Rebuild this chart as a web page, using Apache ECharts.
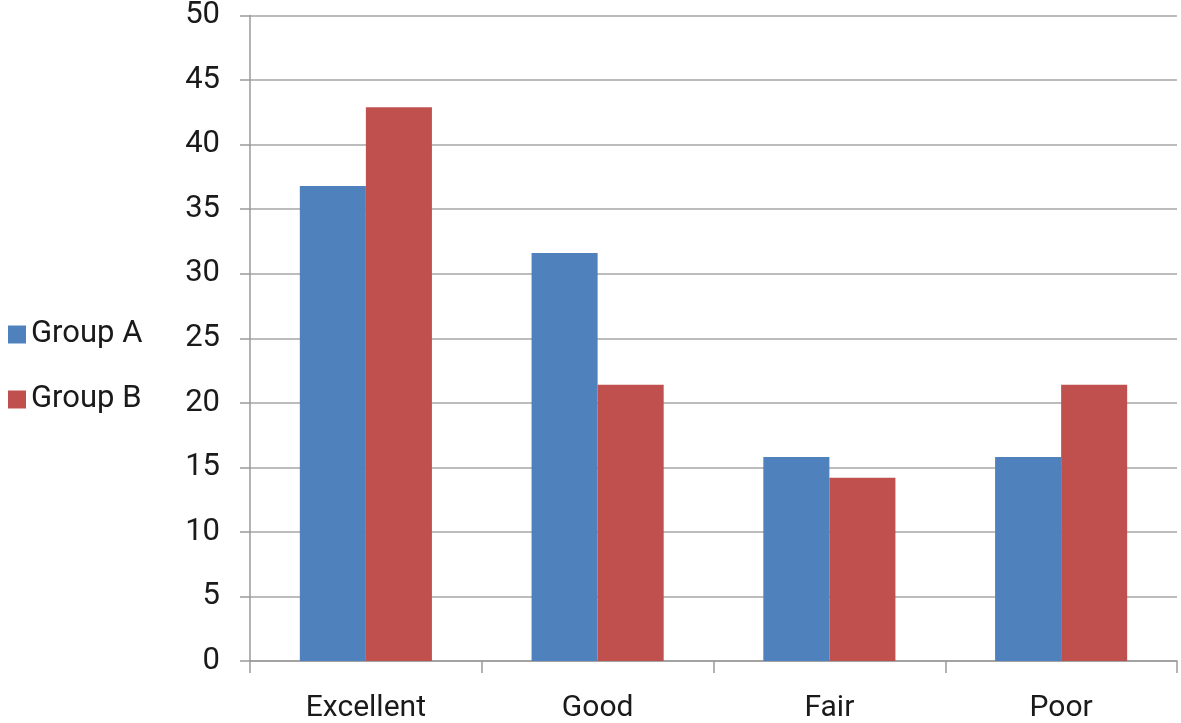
<!DOCTYPE html>
<html>
<head>
<meta charset="utf-8">
<script src="https://cdn.jsdelivr.net/npm/echarts@6/dist/echarts.min.js"></script>
<style>
  html, body { margin: 0; padding: 0; background: #fff; }
  #chart { width: 1181px; height: 723px; }
</style>
</head>
<body>
<div id="chart"></div>
<script>
// values
const categories = ['Excellent', 'Good', 'Fair', 'Poor'];
const groupA = [36.8, 31.6, 15.8, 15.8];
const groupB = [42.9, 21.4, 14.2, 21.4];
const seriesNames = ['Group A', 'Group B'];

const chart = echarts.init(document.getElementById('chart'));
const font = 'Roboto, sans-serif';

chart.setOption({
    animation: false,
    color: ['#4F81BD', '#C0504D'],
    legend: {
        data: seriesNames,
        orient: 'vertical',
        left: 3,
        top: 314,
        icon: 'rect',
        itemWidth: 18,
        itemHeight: 18,
        itemGap: 34,
        textStyle: { fontFamily: font, fontSize: 31, color: '#1a1a1a' }
    },
    grid: { left: 250, right: 4, top: 15, bottom: 62 },
    xAxis: {
        type: 'category',
        data: categories,
        axisLine: { lineStyle: { color: '#9a9a9a', width: 1.5 } },
        axisTick: { show: true, length: 12, lineStyle: { color: '#9a9a9a', width: 1.5 } },
        axisLabel: { fontFamily: font, fontSize: 30, color: '#1a1a1a', margin: 32 }
    },
    yAxis: {
        type: 'value',
        min: 0,
        max: 50,
        interval: 5,
        axisLine: { show: true, lineStyle: { color: '#9a9a9a', width: 1.5 } },
        axisTick: { show: true, length: 10, lineStyle: { color: '#9a9a9a', width: 1.5 } },
        axisLabel: { fontFamily: font, fontSize: 31, color: '#1a1a1a', margin: 30 },
        splitLine: { lineStyle: { color: '#a6a6a6', width: 1.5 } }
    },
    series: [
        { name: seriesNames[0], type: 'bar', data: groupA, barGap: '0%', barCategoryGap: '43%' },
        { name: seriesNames[1], type: 'bar', data: groupB, barGap: '0%', barCategoryGap: '43%' }
    ]
});
</script>
</body>
</html>
